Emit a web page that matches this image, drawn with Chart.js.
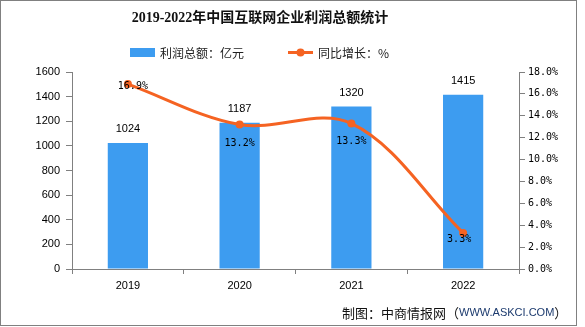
<!DOCTYPE html>
<html>
<head>
<meta charset="utf-8">
<script src="https://cdn.jsdelivr.net/npm/chart.js@4"></script>
<style>
  body { margin: 0; background: #fff; }
  #wrap { width: 585px; height: 327px; }
</style>
</head>
<body>
<div id="wrap"><canvas id="profitChart"></canvas></div>
<script>
// données
const years = ['2019', '2020', '2021', '2022'];
const profit = [1024, 1187, 1320, 1415];   // 利润总额：亿元
const growth = [16.9, 13.2, 13.3, 3.3];    // 同比增长：%
const seriesNames = ['利润总额：亿元', '同比增长：%'];

const BLUE = '#3d9cf0';
const ORANGE = '#f56322';
const GREY = '#808080';
const sans = '"Liberation Sans", Arial, sans-serif';
const mono = '"DejaVu Sans Mono", monospace';
const cjk = '"Noto Sans CJK SC", sans-serif';

// décalage des étiquettes de pourcentage (comme sur l'original)
const pctNudge = [[5, 2], [0, 19], [0, 18], [-4, 7]];

// titre, légende, pied de page et cadre
const decorations = {
  id: 'decorations',
  afterDraw(chart) {
    const c = chart.ctx;
    c.save();
    c.strokeStyle = GREY;
    c.lineWidth = 1;
    c.strokeRect(0.5, 0.5, 576, 325);

    c.fillStyle = '#111';
    c.textAlign = 'center';
    c.textBaseline = 'middle';
    c.font = 'bold 14px "Liberation Serif", "Noto Sans CJK SC", serif';
    c.fillText('2019-2022年中国互联网企业利润总额统计', 260, 18);

    // légende
    c.fillStyle = BLUE;
    c.fillRect(130, 48, 25, 9);
    c.strokeStyle = ORANGE;
    c.lineWidth = 3;
    c.beginPath();
    c.moveTo(288, 52.5);
    c.lineTo(313, 52.5);
    c.stroke();
    c.fillStyle = ORANGE;
    c.beginPath();
    c.arc(300.5, 52.5, 4, 0, Math.PI * 2);
    c.fill();
    c.fillStyle = '#222';
    c.textAlign = 'left';
    c.font = '12px ' + cjk;
    c.fillText(seriesNames[0], 160, 53);
    c.fillText(seriesNames[1], 318, 53);

    // source
    c.font = '13px ' + cjk;
    let x = 342;
    const part1 = '制图：中商情报网（';
    c.fillStyle = '#111';
    c.fillText(part1, x, 313);
    x += c.measureText(part1).width;
    c.font = '11px ' + sans;
    c.fillStyle = '#1c3a6e';
    c.fillText('WWW.ASKCI.COM', x, 313);
    x += c.measureText('WWW.ASKCI.COM').width;
    c.font = '13px ' + cjk;
    c.fillStyle = '#111';
    c.fillText('）', x, 313);
    c.restore();
  }
};

// étiquettes des valeurs
const valueLabels = {
  id: 'valueLabels',
  afterDatasetsDraw(chart) {
    const c = chart.ctx;
    c.save();
    c.fillStyle = '#000';
    c.textAlign = 'center';
    c.textBaseline = 'middle';
    c.font = '11px ' + sans;
    chart.getDatasetMeta(0).data.forEach((bar, i) => {
      c.fillText(String(profit[i]), bar.x, bar.y - 14);
    });
    c.font = '10px ' + mono;
    chart.getDatasetMeta(1).data.forEach((pt, i) => {
      c.fillText(growth[i].toFixed(1) + '%', pt.x + pctNudge[i][0], pt.y + pctNudge[i][1]);
    });
    c.restore();
  }
};

const ctx = document.getElementById('profitChart').getContext('2d');
new Chart(ctx, {
  type: 'bar',
  data: {
    labels: years,
    datasets: [{
      label: seriesNames[0],
      data: profit,
      backgroundColor: BLUE,
      yAxisID: 'y',
      barPercentage: 0.9,
      categoryPercentage: 0.4,
      order: 2
    }, {
      type: 'line',
      label: seriesNames[1],
      data: growth,
      yAxisID: 'y1',
      borderColor: ORANGE,
      backgroundColor: ORANGE,
      borderWidth: 3,
      pointRadius: 4,
      pointBorderWidth: 0,
      tension: 0.35,
      order: 1
    }]
  },
  options: {
    responsive: true,
    maintainAspectRatio: false,
    animation: false,
    layout: { padding: { top: 72, left: 0, right: 0, bottom: 0 } },
    plugins: {
      legend: { display: false },
      title: { display: false },
      tooltip: { enabled: false }
    },
    scales: {
      x: {
        afterFit: s => { s.height = 58; },
        grid: { drawOnChartArea: false, offset: true, tickLength: 5, color: GREY },
        border: { color: GREY },
        ticks: { color: '#000', font: { family: sans, size: 11 }, padding: 5 }
      },
      y: {
        position: 'left',
        min: 0,
        max: 1600,
        afterFit: s => { s.width = 72; },
        grid: { drawOnChartArea: false, tickLength: 6, color: GREY },
        border: { color: GREY },
        ticks: {
          stepSize: 200,
          color: '#000',
          font: { family: sans, size: 11 },
          padding: 6,
          callback: v => String(v)
        }
      },
      y1: {
        position: 'right',
        min: 0,
        max: 18,
        afterFit: s => { s.width = 66; },
        grid: { drawOnChartArea: false, tickLength: 6, color: GREY },
        border: { color: GREY },
        ticks: {
          stepSize: 2,
          color: '#000',
          font: { family: mono, size: 10 },
          padding: 3,
          callback: v => v.toFixed(1) + '%'
        }
      }
    }
  },
  plugins: [valueLabels, decorations]
});
</script>
</body>
</html>
